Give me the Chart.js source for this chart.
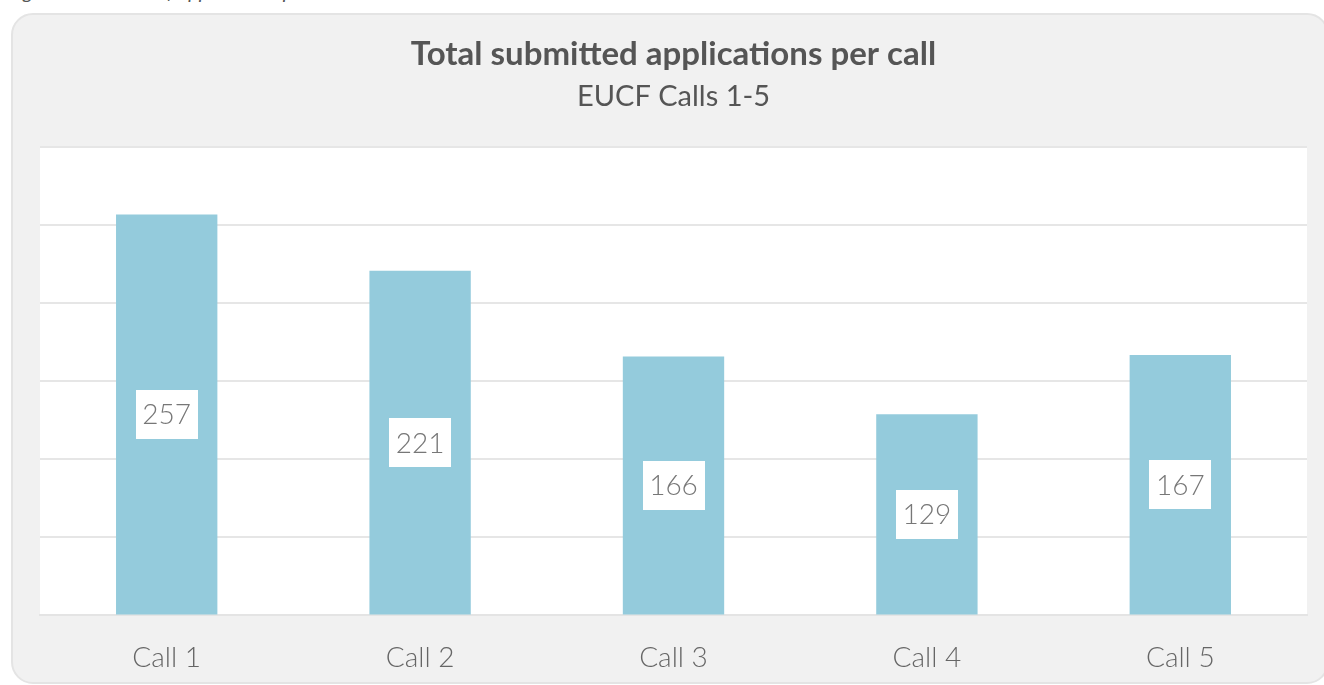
<!DOCTYPE html>
<html>
<head>
<meta charset="utf-8">
<script src="https://cdn.jsdelivr.net/npm/chart.js@4/dist/chart.umd.min.js"></script>
<style>
  html, body { margin: 0; padding: 0; background: #fff; overflow: hidden; }
  body { width: 1324px; height: 685px; position: relative; }
  .caption {
    position: absolute; left: 8px; top: -21px;
    font: italic 20px Lato, "Open Sans", sans-serif; color: #555;
    white-space: nowrap;
  }
  .card {
    position: absolute; left: 11px; top: 13px; width: 1318px; height: 671px;
    background: #f1f1f1; border: 2px solid #e4e4e4; border-radius: 22px;
    box-sizing: border-box;
  }
  #chart { position: absolute; left: 0; top: 0; }
</style>
</head>
<body>
<div class="caption">Figure 3: Number of applications per call</div>
<div class="card"></div>
<canvas id="chart" width="1324" height="685"></canvas>
<script>
const categories = ['Call 1', 'Call 2', 'Call 3', 'Call 4', 'Call 5'];
const applications = [257, 221, 166, 129, 167];
const yMax = 300;
const yStep = 50;

const fontFamily = 'Lato, "Open Sans", sans-serif';

// white plotting area behind the bars
const plotBackground = {
    id: 'plotBackground',
    beforeDraw(chart) {
        const { ctx, chartArea } = chart;
        ctx.save();
        ctx.fillStyle = '#ffffff';
        ctx.fillRect(chartArea.left, chartArea.top, chartArea.right - chartArea.left, chartArea.bottom - chartArea.top);
        ctx.restore();
    }
};

// value boxes in the middle of each bar
const boxLabels = {
    id: 'boxLabels',
    afterDatasetsDraw(chart) {
        const { ctx } = chart;
        const meta = chart.getDatasetMeta(0);
        ctx.save();
        ctx.font = '300 28px ' + fontFamily;
        ctx.textAlign = 'center';
        ctx.textBaseline = 'middle';
        meta.data.forEach((bar, i) => {
            const cy = (bar.y + bar.base) / 2;
            const w = 62, h = 49;
            ctx.fillStyle = '#ffffff';
            ctx.fillRect(Math.round(bar.x - w / 2), Math.round(cy - h / 2), w, h);
            ctx.fillStyle = '#777777';
            ctx.fillText(String(applications[i]), bar.x, cy + 1);
        });
        ctx.restore();
    }
};

const ctx = document.getElementById('chart').getContext('2d');
new Chart(ctx, {
    type: 'bar',
    data: {
        labels: categories,
        datasets: [{
            label: 'Submitted applications',
            data: applications,
            backgroundColor: '#94cbdc',
            borderWidth: 0,
            categoryPercentage: 1,
            barPercentage: 0.4
        }]
    },
    options: {
        responsive: false,
        animation: false,
        layout: { padding: { top: 0, left: 40, right: 17, bottom: -16 } },
        plugins: {
            legend: { display: false },
            tooltip: { enabled: false },
            title: {
                display: true,
                text: 'Total submitted applications per call',
                color: '#555555',
                font: { family: fontFamily, size: 33, weight: 'bold' },
                padding: { top: 35, bottom: 3 }
            },
            subtitle: {
                display: true,
                text: 'EUCF Calls 1-5',
                color: '#555555',
                font: { family: fontFamily, size: 29, weight: 'normal' },
                padding: { top: 2, bottom: 33 }
            }
        },
        scales: {
            x: {
                grid: { display: false, drawTicks: false },
                border: { display: true, color: '#e4e4e4', width: 2 },
                ticks: {
                    color: '#666666',
                    padding: 26,
                    font: { family: fontFamily, size: 28, weight: 300 }
                }
            },
            y: {
                min: 0,
                max: yMax,
                ticks: { display: false, stepSize: yStep },
                grid: { color: '#e6e6e6', lineWidth: 2, drawTicks: false },
                border: { display: false }
            }
        }
    },
    plugins: [plotBackground, boxLabels]
});
</script>
</body>
</html>
